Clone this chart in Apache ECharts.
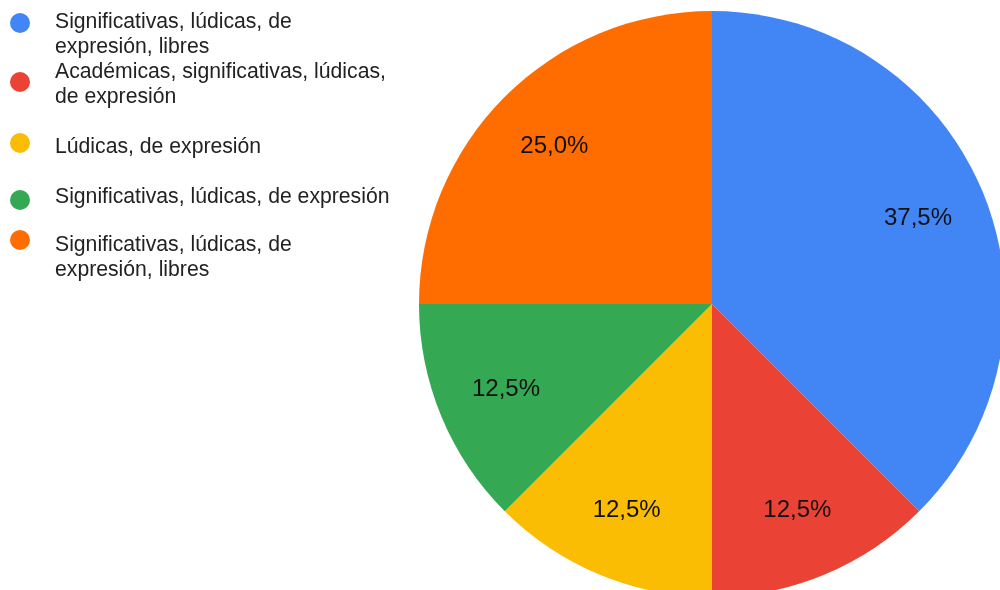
<!DOCTYPE html>
<html>
<head>
<meta charset="utf-8">
<script src="https://cdn.jsdelivr.net/npm/echarts@6/dist/echarts.min.js"></script>
<style>html,body{margin:0;padding:0;background:#fff}#c{width:1000px;height:590px}</style>
</head>
<body>
<div id="c"></div>
<script>
const categories = [
  "Significativas, lúdicas, de expresión, libres",
  "Académicas, significativas, lúdicas, de expresión",
  "Lúdicas, de expresión",
  "Significativas, lúdicas, de expresión",
  "Significativas, lúdicas, de expresión, libres"
];
const legendLabels = [
  "Significativas, lúdicas, de\nexpresión, libres",
  "Académicas, significativas, lúdicas,\nde expresión",
  "Lúdicas, de expresión",
  "Significativas, lúdicas, de expresión",
  "Significativas, lúdicas, de\nexpresión, libres"
];
const values = [3, 1, 1, 1, 2];
const colors = ["#4285F4", "#EA4335", "#FBBC04", "#34A853", "#FF6D01"];

const FONT = "'Liberation Sans', Arial, sans-serif";
const circleY = [23, 82, 143, 200, 240];
const lineY = [22, 72, 147, 197, 245];

const data = values.map((v, i) => ({ name: categories[i], value: v, itemStyle: { color: colors[i] } }));

const graphic = [];
legendLabels.forEach((t, i) => {
  graphic.push({ type: 'circle', shape: { cx: 20, cy: circleY[i], r: 10 }, style: { fill: colors[i] }, silent: true });
  graphic.push({ type: 'text', x: 55, y: lineY[i] - 12.5, style: { text: t, fontSize: 21.2, fontFamily: FONT, fill: '#222', lineHeight: 25, verticalAlign: 'top' }, silent: true });
});

const chart = echarts.init(document.getElementById('c'));
chart.setOption({
  animation: false,
  graphic: graphic,
  series: [
    {
      type: 'pie', center: [712, 304], radius: [0, 293], startAngle: 90, clockwise: true,
      data: data, label: { show: false }, labelLine: { show: false }, silent: true
    },
    {
      type: 'pie', center: [712, 304], radius: [147, 293], startAngle: 90, clockwise: true,
      data: values.map((v, i) => ({ name: categories[i], value: v })),
      itemStyle: { color: 'rgba(0,0,0,0)' }, silent: true,
      label: {
        show: true, position: 'inside', color: '#111', fontSize: 24, fontFamily: FONT,
        formatter: p => p.percent.toFixed(1).replace('.', ',') + '%'
      },
      labelLine: { show: false }
    }
  ]
});
</script>
</body>
</html>
